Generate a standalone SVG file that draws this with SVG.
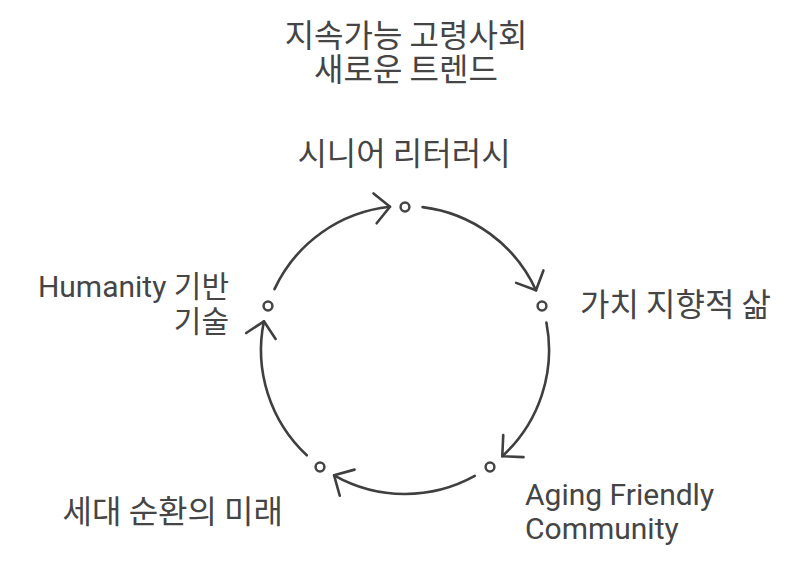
<svg xmlns="http://www.w3.org/2000/svg" width="810" height="567" viewBox="0 0 810 567">
<style>
.t{font-family:Roboto,"Noto Sans CJK KR",sans-serif;font-size:30px;fill:#454545}
.k{font-family:"Noto Sans CJK KR",sans-serif;font-size:32px;fill:#454545}
.dot{fill:#ffffff;stroke:#454545;stroke-width:2.5}
.arc{fill:none;stroke:#3f3f3f;stroke-width:2.6;stroke-linecap:round;marker-end:url(#chev)}
</style>
<defs>
<marker id="chev" markerUnits="userSpaceOnUse" viewBox="-18 -18 22 36" refX="0" refY="0" markerWidth="22" markerHeight="36" orient="auto" overflow="visible">
<path d="M-15,-15 L0,0 L-15,15" fill="none" stroke="#3f3f3f" stroke-width="2.6" stroke-linecap="round" stroke-linejoin="round"/>
</marker>
</defs>
<rect width="810" height="567" fill="#ffffff"/>
<g id="title">
<text class="k" x="406" y="47" text-anchor="middle">지속가능 고령사회</text>
<text class="k" x="406" y="81" text-anchor="middle">새로운 트렌드</text>
</g>
<g id="connectors">
<path class="arc" d="M274.5,289.1 A144,144 0 0 1 390,206.8"/>
<path class="arc" d="M422.6,207.1 A144,144 0 0 1 536,290.3"/>
<path class="arc" d="M546.4,322.5 A144,144 0 0 1 502.3,456.2"/>
<path class="arc" d="M474.8,475.9 A144,144 0 0 1 334.1,475.3"/>
<path class="arc" d="M306.8,455.3 A144,144 0 0 1 263.9,321.3"/>
</g>
<g id="node-literacy">
<circle class="dot" cx="405" cy="207" r="4.4"/>
<text class="k" x="404" y="165" text-anchor="middle">시니어 리터러시</text>
</g>
<g id="node-value">
<circle class="dot" cx="542" cy="306" r="4.4"/>
<text class="k" x="580" y="316">가치 지향적 삶</text>
</g>
<g id="node-community">
<circle class="dot" cx="490" cy="467" r="4.4"/>
<text class="t" x="525" y="505">Aging Friendly</text>
<text class="t" x="525" y="539">Community</text>
</g>
<g id="node-future">
<circle class="dot" cx="320" cy="467" r="4.4"/>
<text class="k" x="283" y="523" text-anchor="end">세대 순환의 미래</text>
</g>
<g id="node-humanity">
<circle class="dot" cx="268" cy="306" r="4.4"/>
<text class="t" x="229" y="297" text-anchor="end">Humanity 기반</text>
<text class="t" x="229" y="332" text-anchor="end">기술</text>
</g>
</svg>
